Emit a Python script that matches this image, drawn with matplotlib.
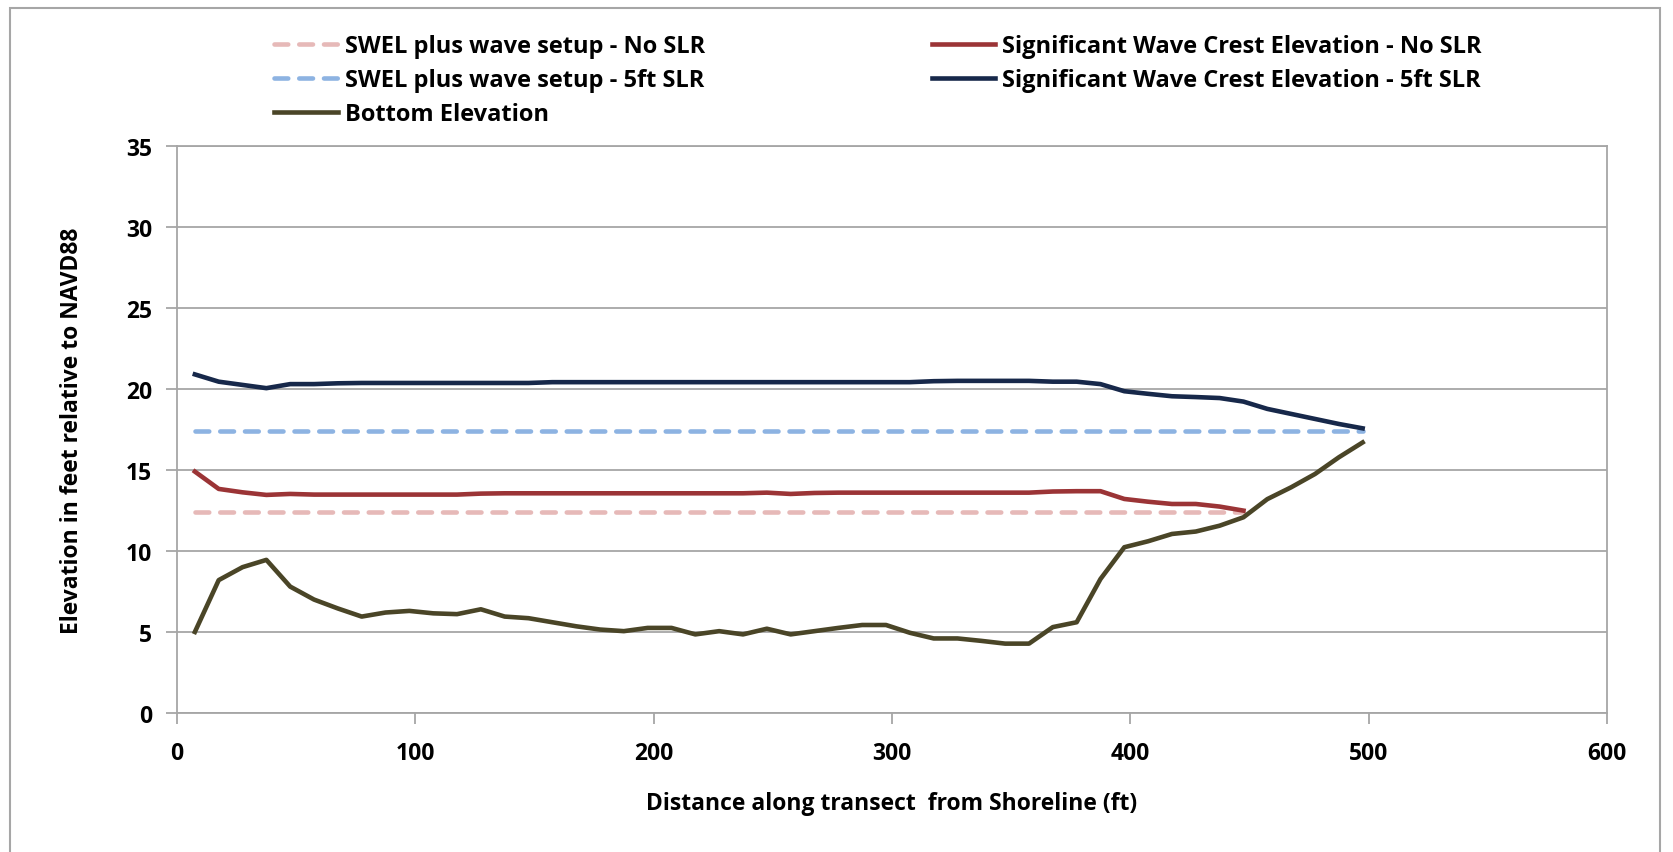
import matplotlib
matplotlib.use("Agg")
import matplotlib.pyplot as plt
from matplotlib.patches import Rectangle

plt.rcParams['font.family'] = ['Open Sans', 'DejaVu Sans']
plt.rcParams['font.weight'] = 'bold'

# distance along transect (ft)
dist = [7.5, 17.5, 27.5, 37.5, 47.5, 57.5, 67.5, 77.5, 87.5, 97.5,
        107.5, 117.5, 127.5, 137.5, 147.5, 157.5, 167.5, 177.5, 187.5, 197.5,
        207.5, 217.5, 227.5, 237.5, 247.5, 257.5, 267.5, 277.5, 287.5, 297.5,
        307.5, 317.5, 327.5, 337.5, 347.5, 357.5, 367.5, 377.5, 387.5, 397.5,
        407.5, 417.5, 427.5, 437.5, 447.5, 457.5, 467.5, 477.5, 487.5, 497.5]

bottom = [5.0, 8.2, 9.0, 9.45, 7.8, 7.0, 6.45, 5.95, 6.2, 6.3,
          6.15, 6.1, 6.4, 5.95, 5.85, 5.6, 5.35, 5.15, 5.05, 5.25,
          5.25, 4.85, 5.05, 4.85, 5.2, 4.85, 5.05, 5.25, 5.43, 5.43,
          4.95, 4.6, 4.6, 4.45, 4.28, 4.28, 5.3, 5.6, 8.27, 10.23,
          10.6, 11.05, 11.2, 11.56, 12.08, 13.2, 13.93, 14.75, 15.78, 16.7]

crest_5ft = [20.9, 20.45, 20.25, 20.05, 20.3, 20.3, 20.35, 20.37, 20.37, 20.37,
             20.37, 20.37, 20.37, 20.37, 20.37, 20.42, 20.42, 20.42, 20.42, 20.42,
             20.42, 20.42, 20.42, 20.42, 20.42, 20.42, 20.42, 20.42, 20.42, 20.42,
             20.42, 20.48, 20.5, 20.5, 20.5, 20.5, 20.45, 20.45, 20.3, 19.86,
             19.7, 19.55, 19.5, 19.44, 19.22, 18.77, 18.46, 18.15, 17.84, 17.57]

crest_no = [14.9, 13.83, 13.62, 13.46, 13.52, 13.48, 13.48, 13.48, 13.48, 13.48,
            13.48, 13.48, 13.54, 13.56, 13.56, 13.56, 13.56, 13.56, 13.56, 13.56,
            13.56, 13.56, 13.56, 13.56, 13.6, 13.52, 13.58, 13.6, 13.6, 13.6,
            13.6, 13.6, 13.6, 13.6, 13.6, 13.6, 13.67, 13.69, 13.69, 13.21,
            13.04, 12.9, 12.9, 12.74, 12.49]

swel_no = [12.4] * 45
swel_5ft = [17.4] * 50

fig = plt.figure(figsize=(16.73, 8.53), dpi=100)
fig.patches.append(Rectangle((0.006, -0.01), 0.986, 0.999, transform=fig.transFigure,
                             fill=False, edgecolor='#a6a6a6', linewidth=1.5))
ax = fig.add_axes([0.1058, 0.163, 0.8547, 0.6647])

dash = (3.0, 2.4)
lw = 3.3
l1, = ax.plot(dist[:45], swel_no, color='#e6b9b8', lw=lw, dashes=dash,
              dash_capstyle='round', label='SWEL plus wave setup - No SLR')
l2, = ax.plot(dist, swel_5ft, color='#8db3e2', lw=lw, dashes=dash,
              dash_capstyle='round', label='SWEL plus wave setup - 5ft SLR')
l3, = ax.plot(dist[:45], crest_no, color='#9b3436', lw=lw,
              label='Significant Wave Crest Elevation - No SLR')
l4, = ax.plot(dist, crest_5ft, color='#17284a', lw=lw,
              label='Significant Wave Crest Elevation - 5ft SLR')
l5, = ax.plot(dist, bottom, color='#4a4527', lw=lw, label='Bottom Elevation')

ax.set_xlim(0, 600)
ax.set_ylim(0, 35)
ax.set_xticks(range(0, 601, 100))
ax.set_yticks(range(0, 36, 5))
ax.grid(axis='y', color='#a6a6a6', lw=1.3)
ax.set_axisbelow(True)
for s in ax.spines.values():
    s.set_color('#a6a6a6')
    s.set_linewidth(1.3)
ax.tick_params(axis='both', colors='#a6a6a6', labelcolor='black', labelsize=16.5,
               length=8, width=1.3)
ax.tick_params(axis='x', pad=12)
ax.tick_params(axis='y', pad=10)

ax.set_xlabel('Distance along transect  from Shoreline (ft)', fontsize=16.5,
              fontweight='bold', labelpad=19)
ax.set_ylabel('Elevation in feet relative to NAVD88', fontsize=16.5,
              fontweight='bold', labelpad=30)

fig.legend(handles=[l1, l2, l5, l3, l4], loc='upper left',
           bbox_to_anchor=(0.158, 0.97), ncol=2, frameon=False, fontsize=17,
           handlelength=2.7, handletextpad=0.3, columnspacing=9.6,
           labelspacing=0.42, borderaxespad=0)

fig.savefig('out.png', dpi=100)
